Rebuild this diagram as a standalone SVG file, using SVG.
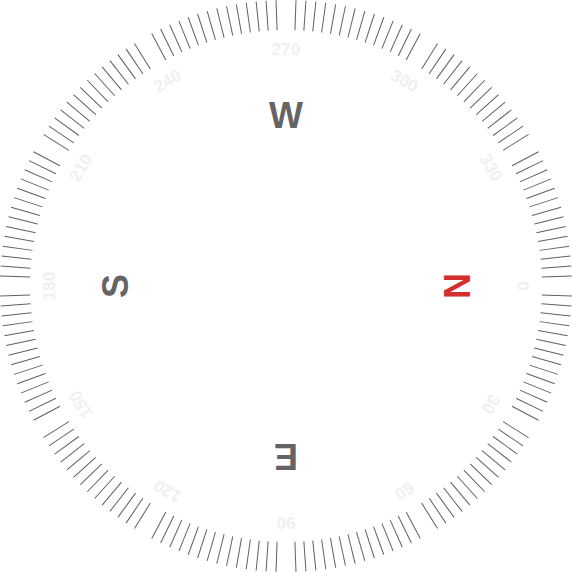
<svg xmlns="http://www.w3.org/2000/svg" xmlns:xlink="http://www.w3.org/1999/xlink" width="572" height="572" viewBox="0 0 572 572">
<style>
.tick{stroke:#606060;stroke-width:1}
.deg{font-family:"Liberation Sans",Arial,sans-serif;font-weight:bold;font-size:17px;fill:#f0f0f0;text-anchor:middle}
.card{font-family:"Liberation Sans",Arial,sans-serif;font-weight:bold;font-size:36px;fill:#646464;text-anchor:middle}
.north{fill:#d32f2f}
</style>
<defs>
<line id="t" class="tick" x1="286" y1="0" x2="286" y2="30"/>
</defs>
<rect width="572" height="572" fill="#ffffff"/>
<g id="ticks">
<use href="#t" transform="rotate(92 286 286)"/><use href="#t" transform="rotate(94 286 286)"/><use href="#t" transform="rotate(96 286 286)"/><use href="#t" transform="rotate(98 286 286)"/><use href="#t" transform="rotate(100 286 286)"/><use href="#t" transform="rotate(102 286 286)"/><use href="#t" transform="rotate(104 286 286)"/><use href="#t" transform="rotate(106 286 286)"/><use href="#t" transform="rotate(108 286 286)"/><use href="#t" transform="rotate(110 286 286)"/><use href="#t" transform="rotate(112 286 286)"/><use href="#t" transform="rotate(114 286 286)"/><use href="#t" transform="rotate(116 286 286)"/><use href="#t" transform="rotate(118 286 286)"/>
<use href="#t" transform="rotate(122 286 286)"/><use href="#t" transform="rotate(124 286 286)"/><use href="#t" transform="rotate(126 286 286)"/><use href="#t" transform="rotate(128 286 286)"/><use href="#t" transform="rotate(130 286 286)"/><use href="#t" transform="rotate(132 286 286)"/><use href="#t" transform="rotate(134 286 286)"/><use href="#t" transform="rotate(136 286 286)"/><use href="#t" transform="rotate(138 286 286)"/><use href="#t" transform="rotate(140 286 286)"/><use href="#t" transform="rotate(142 286 286)"/><use href="#t" transform="rotate(144 286 286)"/><use href="#t" transform="rotate(146 286 286)"/><use href="#t" transform="rotate(148 286 286)"/>
<use href="#t" transform="rotate(152 286 286)"/><use href="#t" transform="rotate(154 286 286)"/><use href="#t" transform="rotate(156 286 286)"/><use href="#t" transform="rotate(158 286 286)"/><use href="#t" transform="rotate(160 286 286)"/><use href="#t" transform="rotate(162 286 286)"/><use href="#t" transform="rotate(164 286 286)"/><use href="#t" transform="rotate(166 286 286)"/><use href="#t" transform="rotate(168 286 286)"/><use href="#t" transform="rotate(170 286 286)"/><use href="#t" transform="rotate(172 286 286)"/><use href="#t" transform="rotate(174 286 286)"/><use href="#t" transform="rotate(176 286 286)"/><use href="#t" transform="rotate(178 286 286)"/>
<use href="#t" transform="rotate(182 286 286)"/><use href="#t" transform="rotate(184 286 286)"/><use href="#t" transform="rotate(186 286 286)"/><use href="#t" transform="rotate(188 286 286)"/><use href="#t" transform="rotate(190 286 286)"/><use href="#t" transform="rotate(192 286 286)"/><use href="#t" transform="rotate(194 286 286)"/><use href="#t" transform="rotate(196 286 286)"/><use href="#t" transform="rotate(198 286 286)"/><use href="#t" transform="rotate(200 286 286)"/><use href="#t" transform="rotate(202 286 286)"/><use href="#t" transform="rotate(204 286 286)"/><use href="#t" transform="rotate(206 286 286)"/><use href="#t" transform="rotate(208 286 286)"/>
<use href="#t" transform="rotate(212 286 286)"/><use href="#t" transform="rotate(214 286 286)"/><use href="#t" transform="rotate(216 286 286)"/><use href="#t" transform="rotate(218 286 286)"/><use href="#t" transform="rotate(220 286 286)"/><use href="#t" transform="rotate(222 286 286)"/><use href="#t" transform="rotate(224 286 286)"/><use href="#t" transform="rotate(226 286 286)"/><use href="#t" transform="rotate(228 286 286)"/><use href="#t" transform="rotate(230 286 286)"/><use href="#t" transform="rotate(232 286 286)"/><use href="#t" transform="rotate(234 286 286)"/><use href="#t" transform="rotate(236 286 286)"/><use href="#t" transform="rotate(238 286 286)"/>
<use href="#t" transform="rotate(242 286 286)"/><use href="#t" transform="rotate(244 286 286)"/><use href="#t" transform="rotate(246 286 286)"/><use href="#t" transform="rotate(248 286 286)"/><use href="#t" transform="rotate(250 286 286)"/><use href="#t" transform="rotate(252 286 286)"/><use href="#t" transform="rotate(254 286 286)"/><use href="#t" transform="rotate(256 286 286)"/><use href="#t" transform="rotate(258 286 286)"/><use href="#t" transform="rotate(260 286 286)"/><use href="#t" transform="rotate(262 286 286)"/><use href="#t" transform="rotate(264 286 286)"/><use href="#t" transform="rotate(266 286 286)"/><use href="#t" transform="rotate(268 286 286)"/>
<use href="#t" transform="rotate(272 286 286)"/><use href="#t" transform="rotate(274 286 286)"/><use href="#t" transform="rotate(276 286 286)"/><use href="#t" transform="rotate(278 286 286)"/><use href="#t" transform="rotate(280 286 286)"/><use href="#t" transform="rotate(282 286 286)"/><use href="#t" transform="rotate(284 286 286)"/><use href="#t" transform="rotate(286 286 286)"/><use href="#t" transform="rotate(288 286 286)"/><use href="#t" transform="rotate(290 286 286)"/><use href="#t" transform="rotate(292 286 286)"/><use href="#t" transform="rotate(294 286 286)"/><use href="#t" transform="rotate(296 286 286)"/><use href="#t" transform="rotate(298 286 286)"/>
<use href="#t" transform="rotate(302 286 286)"/><use href="#t" transform="rotate(304 286 286)"/><use href="#t" transform="rotate(306 286 286)"/><use href="#t" transform="rotate(308 286 286)"/><use href="#t" transform="rotate(310 286 286)"/><use href="#t" transform="rotate(312 286 286)"/><use href="#t" transform="rotate(314 286 286)"/><use href="#t" transform="rotate(316 286 286)"/><use href="#t" transform="rotate(318 286 286)"/><use href="#t" transform="rotate(320 286 286)"/><use href="#t" transform="rotate(322 286 286)"/><use href="#t" transform="rotate(324 286 286)"/><use href="#t" transform="rotate(326 286 286)"/><use href="#t" transform="rotate(328 286 286)"/>
<use href="#t" transform="rotate(332 286 286)"/><use href="#t" transform="rotate(334 286 286)"/><use href="#t" transform="rotate(336 286 286)"/><use href="#t" transform="rotate(338 286 286)"/><use href="#t" transform="rotate(340 286 286)"/><use href="#t" transform="rotate(342 286 286)"/><use href="#t" transform="rotate(344 286 286)"/><use href="#t" transform="rotate(346 286 286)"/><use href="#t" transform="rotate(348 286 286)"/><use href="#t" transform="rotate(350 286 286)"/><use href="#t" transform="rotate(352 286 286)"/><use href="#t" transform="rotate(354 286 286)"/><use href="#t" transform="rotate(356 286 286)"/><use href="#t" transform="rotate(358 286 286)"/>
<use href="#t" transform="rotate(2 286 286)"/><use href="#t" transform="rotate(4 286 286)"/><use href="#t" transform="rotate(6 286 286)"/><use href="#t" transform="rotate(8 286 286)"/><use href="#t" transform="rotate(10 286 286)"/><use href="#t" transform="rotate(12 286 286)"/><use href="#t" transform="rotate(14 286 286)"/><use href="#t" transform="rotate(16 286 286)"/><use href="#t" transform="rotate(18 286 286)"/><use href="#t" transform="rotate(20 286 286)"/><use href="#t" transform="rotate(22 286 286)"/><use href="#t" transform="rotate(24 286 286)"/><use href="#t" transform="rotate(26 286 286)"/><use href="#t" transform="rotate(28 286 286)"/>
<use href="#t" transform="rotate(32 286 286)"/><use href="#t" transform="rotate(34 286 286)"/><use href="#t" transform="rotate(36 286 286)"/><use href="#t" transform="rotate(38 286 286)"/><use href="#t" transform="rotate(40 286 286)"/><use href="#t" transform="rotate(42 286 286)"/><use href="#t" transform="rotate(44 286 286)"/><use href="#t" transform="rotate(46 286 286)"/><use href="#t" transform="rotate(48 286 286)"/><use href="#t" transform="rotate(50 286 286)"/><use href="#t" transform="rotate(52 286 286)"/><use href="#t" transform="rotate(54 286 286)"/><use href="#t" transform="rotate(56 286 286)"/><use href="#t" transform="rotate(58 286 286)"/>
<use href="#t" transform="rotate(62 286 286)"/><use href="#t" transform="rotate(64 286 286)"/><use href="#t" transform="rotate(66 286 286)"/><use href="#t" transform="rotate(68 286 286)"/><use href="#t" transform="rotate(70 286 286)"/><use href="#t" transform="rotate(72 286 286)"/><use href="#t" transform="rotate(74 286 286)"/><use href="#t" transform="rotate(76 286 286)"/><use href="#t" transform="rotate(78 286 286)"/><use href="#t" transform="rotate(80 286 286)"/><use href="#t" transform="rotate(82 286 286)"/><use href="#t" transform="rotate(84 286 286)"/><use href="#t" transform="rotate(86 286 286)"/><use href="#t" transform="rotate(88 286 286)"/>
</g>
<g id="degrees">
<text class="deg" x="286" y="55" transform="rotate(90 286 286)">0</text>
<text class="deg" x="286" y="55" transform="rotate(120 286 286)">30</text>
<text class="deg" x="286" y="55" transform="rotate(150 286 286)">60</text>
<text class="deg" x="286" y="55" transform="rotate(180 286 286)">90</text>
<text class="deg" x="286" y="55" transform="rotate(210 286 286)">120</text>
<text class="deg" x="286" y="55" transform="rotate(240 286 286)">150</text>
<text class="deg" x="286" y="55" transform="rotate(270 286 286)">180</text>
<text class="deg" x="286" y="55" transform="rotate(300 286 286)">210</text>
<text class="deg" x="286" y="55" transform="rotate(330 286 286)">240</text>
<text class="deg" x="286" y="55">270</text>
<text class="deg" x="286" y="55" transform="rotate(30 286 286)">300</text>
<text class="deg" x="286" y="55" transform="rotate(60 286 286)">330</text>
</g>
<g id="west"><text class="card" x="286" y="128">W</text></g>
<g id="north"><text class="card north" x="286" y="128" transform="rotate(90 286 286)">N</text></g>
<g id="east"><text class="card" x="286" y="128" transform="rotate(180 286 286)">E</text></g>
<g id="south"><text class="card" x="286" y="128" transform="rotate(270 286 286)">S</text></g>
</svg>
